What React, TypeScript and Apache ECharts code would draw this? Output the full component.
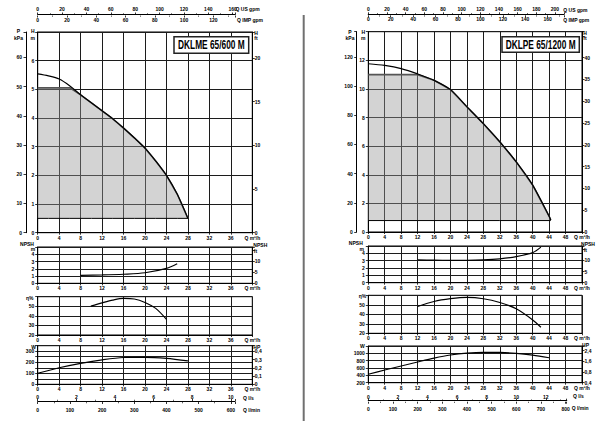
import React, { useEffect, useRef } from 'react';
import * as echarts from 'echarts';

const FONT = '"Liberation Sans", Arial, Helvetica, sans-serif';

// ---------- Left pump: DKLME 65/600 M ----------
const leftTitle = 'DKLME 65/600 M';
const leftHeadQ = [0, 2, 4, 6, 8, 10, 12, 14, 16, 18, 20, 22, 24, 26, 28];
const leftHead = [5.54, 5.47, 5.36, 5.12, 4.81, 4.53, 4.25, 3.97, 3.65, 3.31, 2.95, 2.5, 2.0, 1.35, 0.5];
const leftShadeTop = 5.05;
const leftShadeBottom = 0.5;
const leftNpshQ = [8, 12, 16, 20, 24, 26];
const leftNpsh = [1.1, 1.15, 1.25, 1.45, 2.05, 2.7];
const leftEtaQ = [9.9, 12, 14, 16, 18, 20, 22, 24];
const leftEta = [50.2, 53.6, 56.5, 58.2, 57.6, 54.0, 47.8, 36.4];
const leftPowerQ = [0, 4, 8, 12, 16, 20, 24, 28];
const leftPower = [100, 150, 190, 222, 243, 245, 235, 212];

// ---------- Right pump: DKLPE 65/1200 M ----------
const rightTitle = 'DKLPE 65/1200 M';
const rightHeadQ = [0, 4, 8, 12, 16, 20, 24, 28, 32, 36, 40, 44, 44.4];
const rightHead = [11.76, 11.64, 11.42, 11.05, 10.6, 9.95, 8.75, 7.57, 6.3, 4.9, 3.28, 1.1, 0.84];
const rightShadeTop = 11.0;
const rightShadeBottom = 0.8;
const rightNpshQ = [12, 16, 20, 24, 28, 32, 36, 40, 42];
const rightNpsh = [3.1, 3.07, 3.05, 3.05, 3.1, 3.25, 3.55, 4.1, 4.85];
const rightEtaQ = [12, 16, 20, 24, 28, 32, 36, 40, 42];
const rightEta = [48.2, 53.5, 56.4, 57.8, 56.4, 52.4, 45.8, 34.1, 26.4];
const rightPowerQ = [0, 4, 8, 12, 16, 20, 24, 28, 32, 36, 40, 44];
const rightPower = [430, 545, 655, 765, 870, 955, 1005, 1025, 1025, 1000, 950, 880];
const rightHpTickLabels = ['0,4', '0,8', '1,6', '2,4'];

// unit conversions
const M_TO_FT = 3.28084;
const M_TO_KPA = 9.80665;
const M3H_TO_USGPM = 4.40287;
const M3H_TO_IMPGPM = 3.66615;
const M3H_TO_LS = 1 / 3.6;
const M3H_TO_LMIN = 1000 / 60;
const W_PER_HP = 745.7;

const leftData = {
  title: leftTitle, headQ: leftHeadQ, head: leftHead, shadeTop: leftShadeTop, shadeBottom: leftShadeBottom,
  npshQ: leftNpshQ, npsh: leftNpsh, etaQ: leftEtaQ, eta: leftEta, powerQ: leftPowerQ, power: leftPower,
};
const rightData = {
  title: rightTitle, headQ: rightHeadQ, head: rightHead, shadeTop: rightShadeTop, shadeBottom: rightShadeBottom,
  npshQ: rightNpshQ, npsh: rightNpsh, etaQ: rightEtaQ, eta: rightEta, powerQ: rightPowerQ, power: rightPower,
};

const leftLayout = {
  x0: 37.7, x1: 252.3, qMax: 40, kpaLineX: 26,
  main: [32, 232.7], npsh: [247, 283.3], eta: [296.7, 335], power: [345.7, 384.3],
  hMax: 7, hStep: 1, hLabelMax: 6, kpaStep: 10, kpaLabelMax: 60, ftLabelMax: 20,
  wMin: 0, wMax: 350, wStep: 50, wLabelStep: 100, wLabelMax: 300, hpMode: 'linear',
  gpmY: 14.5, gpmW: 197.4, lsY: 401, lsW: 197.4,
  titleBox: [174, 36.7, 74.7, 16.6],
  names: [
    ['P', 18.5, 30.7, 'center'], ['kPa', 18.5, 37.5, 'center'], ['H', 32.8, 30.7, 'center'], ['m', 32.8, 37.5, 'center'],
    ['H', 256, 33, 'center'], ['ft', 256, 38.3, 'center'],
    ['NPSH', 27, 243.5, 'center'], ['m', 33, 249.3, 'center'], ['NPSH', 260.3, 244.7, 'center'], ['ft', 255.5, 250.5, 'center'],
    ['η%', 29.7, 297.5, 'center'], ['W', 33.5, 346.5, 'center'], ['HP', 256.8, 346.5, 'center'],
    ['Q US gpm', 235.5, 9.3, 'left'], ['Q IMP gpm', 237, 19.5, 'left'], ['Q l/s', 243, 397.7, 'left'], ['Q l/min', 243, 409.5, 'left'],
  ],
};
const rightLayout = {
  x0: 368.3, x1: 582, qMax: 52, kpaLineX: 356.7,
  main: [31.7, 232], npsh: [246, 282.7], eta: [295.3, 333.3], power: [346, 382.7],
  hMax: 14, hStep: 2, hLabelMax: 12, kpaStep: 20, kpaLabelMax: 120, ftLabelMax: 40,
  wMin: 200, wMax: 1200, wStep: 200, wLabelStep: 200, wLabelMax: 1000, hpMode: 'labels',
  gpmY: 14.3, gpmW: 195.7, lsY: 400.7, lsW: 198.4,
  titleBox: [502, 36.7, 77.3, 15.6],
  names: [
    ['P', 350, 31.7, 'center'], ['kPa', 350, 37.7, 'center'], ['H', 363.3, 31.7, 'center'], ['m', 363.3, 37.7, 'center'],
    ['H', 585, 33, 'center'], ['ft', 585, 38.3, 'center'],
    ['NPSH', 355.8, 243.3, 'center'], ['m', 361.7, 248.5, 'center'], ['NPSH', 588, 244, 'center'], ['ft', 585.3, 249.5, 'center'],
    ['η%', 362.5, 295.7, 'center'], ['W', 362.3, 345.7, 'center'], ['HP', 585.5, 345, 'center'],
    ['Q US gpm', 563.3, 10, 'left'], ['Q IMP gpm', 563.3, 20, 'left'], ['Q l/s', 573, 396, 'left'], ['Q l/min', 571.7, 408.3, 'left'],
  ],
};

const LBL = { fontSize: 5, fontWeight: 'bold', fontFamily: FONT, color: '#000' };
const GRID_LINE = { color: '#1c1c1c', width: 1 };
const isMult = (v: number, s: number) => Math.abs(v / s - Math.round(v / s)) < 1e-6;
const tickFmt = (step: number, lo: number, hi: number, fmt: (v: number) => string = (v) => String(v)) =>
  (v: number) => (isMult(v, step) && v >= lo - 1e-9 && v <= hi + 1e-9 ? fmt(v) : '');

function qAxis(gridIndex: number, qMax: number) {
  return {
    type: 'value', gridIndex, min: 0, max: qMax, interval: 4, position: 'bottom',
    axisLine: { show: true, onZero: false, lineStyle: { color: '#000', width: 1 } },
    axisTick: { show: true, length: 2, lineStyle: { color: '#000', width: 0.8 } },
    axisLabel: { ...LBL, margin: 2.5, showMinLabel: true, showMaxLabel: true, formatter: (v: number) => (Math.abs(v - qMax) < 1e-9 ? 'Q m³/h' : String(v)) },
    splitLine: { show: true, lineStyle: GRID_LINE },
  };
}

function yAx(gridIndex: number, position: string, min: number, max: number, interval: number, formatter: any, extra: any = {}) {
  return {
    type: 'value', gridIndex, position, min, max, interval,
    axisLine: { show: true, onZero: false, lineStyle: { color: '#000', width: 1 } },
    axisTick: { show: true, length: 2.5, lineStyle: { color: '#000', width: 0.8 } },
    axisLabel: { ...LBL, margin: position === 'left' ? 3.5 : 2.5, formatter, showMinLabel: true, showMaxLabel: true },
    splitLine: { show: false },
    ...extra,
  };
}

function auxAx(gridIndex: number, position: string, max: number, interval: number, margin: number, showLine: boolean) {
  return {
    type: 'value', gridIndex, position, min: 0, max, interval,
    axisLine: { show: showLine, onZero: false, lineStyle: { color: '#000', width: 1.2 } },
    axisTick: { show: true, length: 2, lineStyle: { color: '#000', width: 0.8 } },
    minorTick: { show: true, splitNumber: 2, length: 1.3, lineStyle: { color: '#000', width: 0.6 } },
    axisLabel: { ...LBL, margin, formatter: tickFmt(interval, 0, max), showMinLabel: true, showMaxLabel: true },
    splitLine: { show: false },
    minorSplitLine: { show: false },
  };
}

const mkLine = (xi: number, yi: number, data: number[][], extra: any = {}) => ({
  type: 'line', xAxisIndex: xi, yAxisIndex: yi, data, showSymbol: false, symbol: 'none', silent: true,
  lineStyle: { color: '#000', width: 1.2 }, z: 5, animation: false, ...extra,
});

const txt = (text: string, x: number, y: number, align: string, font = `bold 5px ${FONT}`) => ({
  type: 'text', x, y, z: 100, silent: true,
  style: { text, font, fill: '#000', align, verticalAlign: 'middle', textAlign: align, textVerticalAlign: 'middle' },
});

function addPanel(opt: any, L: any, D: any) {
  const g0 = opt.grid.length;
  const xi = opt.xAxis.length;
  const yi = opt.yAxis.length;
  const W = L.x1 - L.x0;
  const pxPerQ = W / L.qMax;
  const mkGrid = (r: number[]) => ({
    left: L.x0, top: r[0], width: W, height: r[1] - r[0], show: true, borderColor: '#000', borderWidth: 1,
    backgroundColor: 'transparent', containLabel: false, outerBoundsMode: 'none',
  });
  opt.grid.push(mkGrid(L.main), mkGrid(L.npsh), mkGrid(L.eta), mkGrid(L.power));
  opt.grid.push({ left: L.x0, top: L.gpmY, width: L.gpmW, height: 1, show: false, containLabel: false, outerBoundsMode: 'none' });
  opt.grid.push({ left: L.x0, top: L.lsY, width: L.lsW, height: 1, show: false, containLabel: false, outerBoundsMode: 'none' });

  // x axes
  for (let i = 0; i < 4; i++) opt.xAxis.push(qAxis(g0 + i, L.qMax));
  const gpmQmax = L.gpmW / pxPerQ;
  const lsQmax = L.lsW / pxPerQ;
  opt.xAxis.push(auxAx(g0 + 4, 'top', gpmQmax * M3H_TO_USGPM, 20, 2.7, true));
  opt.xAxis.push(auxAx(g0 + 4, 'bottom', gpmQmax * M3H_TO_IMPGPM, 20, 1.5, false));
  opt.xAxis.push(auxAx(g0 + 5, 'top', lsQmax * M3H_TO_LS, 2, 1.5, true));
  opt.xAxis.push(auxAx(g0 + 5, 'bottom', lsQmax * M3H_TO_LMIN, 100, 5, false));

  // y axes
  const split = { splitLine: { show: true, lineStyle: GRID_LINE } };
  opt.yAxis.push(yAx(g0, 'left', 0, L.hMax, L.hStep, tickFmt(L.hStep, 0, L.hLabelMax), split));
  opt.yAxis.push(yAx(g0, 'left', 0, L.hMax * M_TO_KPA, L.kpaStep, null, {
    offset: L.x0 - L.kpaLineX,
    axisLabel: { ...LBL, margin: 4, formatter: tickFmt(L.kpaStep, 0, L.kpaLabelMax), showMinLabel: true, showMaxLabel: true },
  }));
  opt.yAxis.push(yAx(g0, 'right', 0, L.hMax * M_TO_FT, 5, tickFmt(5, 0, L.ftLabelMax)));
  opt.yAxis.push(yAx(g0 + 1, 'left', 0, 5, 1, tickFmt(1, 0, 4), split));
  opt.yAxis.push(yAx(g0 + 1, 'right', 0, 5 * M_TO_FT, 5, tickFmt(5, 0, 10)));
  opt.yAxis.push(yAx(g0 + 2, 'left', 20, 60, 10, tickFmt(10, 20, 50), split));
  opt.yAxis.push(yAx(g0 + 3, 'left', L.wMin, L.wMax, L.wStep, tickFmt(L.wLabelStep, L.wMin, L.wLabelMax), split));
  if (L.hpMode === 'linear') {
    opt.yAxis.push(yAx(g0 + 3, 'right', 0, L.wMax / W_PER_HP, 0.1,
      tickFmt(0.1, 0, 0.4, (v) => (v === 0 ? '0' : v.toFixed(1).replace('.', ',')))));
  } else {
    opt.yAxis.push(yAx(g0 + 3, 'right', 0, 3.44, 1,
      (v: number) => (Number.isInteger(v) && rightHpTickLabels[v] ? rightHpTickLabels[v] : '')));
  }
  opt.yAxis.push({ type: 'value', gridIndex: g0 + 4, show: false, min: 0, max: 1 });
  opt.yAxis.push({ type: 'value', gridIndex: g0 + 5, show: false, min: 0, max: 1 });

  // shaded operating area, drawn through the axes' scales
  opt.series.push({
    type: 'custom', coordinateSystem: 'cartesian2d', xAxisIndex: xi, yAxisIndex: yi, silent: true, z: 2,
    data: [[0, D.shadeBottom]],
    renderItem: (_params: any, api: any) => {
      const top = D.headQ.map((q: number, i: number) => api.coord([q, Math.min(D.shadeTop, D.head[i])]));
      const bottom = D.headQ.map((q: number) => api.coord([q, D.shadeBottom])).reverse();
      return {
        type: 'group',
        children: [
          { type: 'polygon', shape: { points: top.concat(bottom) }, style: { fill: 'rgba(150,150,150,0.42)', stroke: 'none' } },
          { type: 'polyline', shape: { points: top }, style: { stroke: '#555', lineWidth: 1.6, fill: 'none' } },
          { type: 'polyline', shape: { points: bottom }, style: { stroke: '#000', lineWidth: 1, fill: 'none' } },
        ],
      };
    },
  });
  opt.series.push(mkLine(xi, yi, D.headQ.map((q: number, i: number) => [q, D.head[i]]), { smooth: 0.3 }));
  opt.series.push(mkLine(xi + 1, yi + 3, D.npshQ.map((q: number, i: number) => [q, D.npsh[i]]), { smooth: 0.3 }));
  opt.series.push(mkLine(xi + 2, yi + 5, D.etaQ.map((q: number, i: number) => [q, D.eta[i]]), { smooth: 0.3 }));
  opt.series.push(mkLine(xi + 3, yi + 6, D.powerQ.map((q: number, i: number) => [q, D.power[i]]), { smooth: 0.3 }));

  // graphics: title box and unit names
  const [bx, by, bw, bh] = L.titleBox;
  opt.graphic.elements.push({
    type: 'rect', z: 99, silent: true, shape: { x: bx, y: by, width: bw, height: bh },
    style: { fill: '#fff', stroke: '#222', lineWidth: 1.5 },
  });
  const t = txt(D.title, bx + bw / 2, by + bh / 2 + 0.3, 'center', `bold 12px ${FONT}`) as any;
  t.scaleX = 0.695;
  t.z = 101;
  opt.graphic.elements.push(t);
  L.names.forEach((n: any) => opt.graphic.elements.push(txt(n[0], n[1], n[2], n[3])));
}

function buildOption() {
  const opt: any = {
    animation: false, backgroundColor: '#fff',
    grid: [], xAxis: [], yAxis: [], series: [],
    graphic: { elements: [] },
  };
  addPanel(opt, leftLayout, leftData);
  addPanel(opt, rightLayout, rightData);
  opt.graphic.elements.push({
    type: 'line', z: 100, silent: true, shape: { x1: 303.7, y1: 15, x2: 303.7, y2: 421 },
    style: { stroke: '#707070', lineWidth: 2 },
  });
  return opt;
}

export default function App() {
  const ref = useRef<HTMLDivElement>(null);
  useEffect(() => {
    if (!ref.current) return;
    const chart = echarts.init(ref.current, undefined, { renderer: 'svg', width: 605, height: 421 });
    chart.setOption(buildOption());
    return () => chart.dispose();
  }, []);
  return <div ref={ref} style={{ position: 'absolute', left: 0, top: 0, width: 605, height: 421, background: '#fff' }} />;
}
